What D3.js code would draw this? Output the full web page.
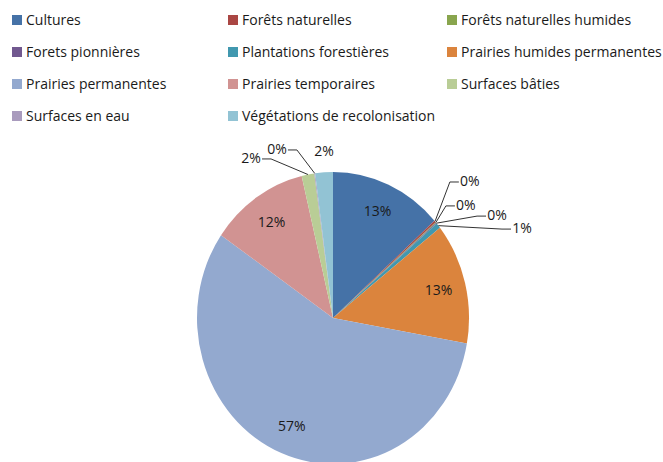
<!DOCTYPE html>
<meta charset="utf-8">
<script src="https://d3js.org/d3.v7.min.js"></script>
<style>
  body { margin: 0; background: #fff; }
  text { font-family: "Open Sans", sans-serif; }
</style>
<div id="chart"></div>
<script>

// categories, shares (%) and colours, clockwise from 12 o'clock
var categories = ["Cultures", "Forêts naturelles", "Forêts naturelles humides",
  "Forets pionnières", "Plantations forestières", "Prairies humides permanentes",
  "Prairies permanentes", "Prairies temporaires", "Surfaces bâties",
  "Surfaces en eau", "Végétations de recolonisation"];
var shares = [13.4, 0.2, 0.1, 0.1, 0.6, 13.4, 56.8, 11.7, 1.5, 0.1, 2.1];
var colors = ["#4572A7", "#AA4643", "#89A54E", "#71588F", "#4198AF", "#DB843D",
  "#93A9CF", "#D19392", "#B9CD96", "#A99BBD", "#92C3D4"];

var width = 663, height = 462;

var svg = d3.select("#chart")
  .append("svg")
    .attr("width", width)
    .attr("height", height);

// legend, 3 columns
var legend = svg.append("g").attr("class", "legend");
var item = legend.selectAll("g")
  .data(categories)
  .enter()
  .append("g")
    .attr("transform", function(d, i) {
      var col = i % 3, row = Math.floor(i / 3);
      return "translate(" + [12, 228, 447][col] + "," + (20 + row * 32) + ")";
    });
item.append("rect")
  .attr("x", 0).attr("y", -5)
  .attr("width", 10).attr("height", 10)
  .attr("fill", function(d, i) { return colors[i]; });
item.append("text")
  .attr("x", 14)
  .attr("dy", "0.35em")
  .style("font-size", "14px")
  .attr("fill", "#1a1a1a")
  .text(function(d) { return d; });

// pie (Excel squashed it a little: taller than wide)
var cx = 333, cy = 318, rx = 136, ry = 146;
var sy = ry / rx;

var pie = d3.pie().sort(null).value(function(d) { return d; });
var arcs = pie(shares);
var total = d3.sum(shares);

var arc = d3.arc().innerRadius(0).outerRadius(rx);

svg.append("g")
    .attr("transform", "translate(" + cx + "," + cy + ") scale(1," + sy + ")")
  .selectAll("path")
  .data(arcs)
  .enter()
  .append("path")
    .attr("d", arc)
    .attr("fill", function(d, i) { return colors[i]; });

// point on the ellipse for an angle (radians from top, clockwise) and radius factor
function pt(a, k) {
  return [cx + Math.sin(a) * rx * k, cy - Math.cos(a) * ry * k];
}
function mid(d) { return (d.startAngle + d.endAngle) / 2; }
function pct(v) { return Math.round(v / total * 100) + "%"; }

// labels of the big slices sit inside
var inside = arcs.filter(function(d) { return d.value >= 5; });
svg.append("g").selectAll("text")
  .data(inside)
  .enter()
  .append("text")
    .attr("x", function(d) { return pt(mid(d), 0.8)[0]; })
    .attr("y", function(d) { return pt(mid(d), 0.8)[1]; })
    .attr("dy", "0.35em")
    .attr("text-anchor", "middle")
    .style("font-size", "14px")
    .attr("fill", "#1a1a1a")
    .text(function(d) { return pct(d.value); });

// small slices: labels pushed out, angle (deg) / radius factor of the label centre
var outsideAt = {1: [47, 1.376], 2: [51.6, 1.247], 3: [59.7, 1.397], 4: [66.1, 1.52],
                 8: [331.2, 1.251], 9: [340.4, 1.229], 10: [356.7, 1.146]};
var outside = arcs.filter(function(d) { return d.value < 5; });
var og = svg.append("g");

outside.forEach(function(d) {
  var spec = outsideAt[d.index];
  var p = pt(spec[0] * Math.PI / 180, spec[1]);
  var e = pt(mid(d), 1);
  var right = p[0] > cx + 20, left = p[0] < cx - 20;
  var half = 10;
  if (right || left) {
    var s = right ? -1 : 1;
    var tx = p[0] + s * (half + 1);
    og.append("polyline")
      .attr("points", [e, [tx + s * 9, p[1] + 1], [tx, p[1] + 1]].join(" "))
      .attr("fill", "none")
      .attr("stroke", "#333")
      .attr("stroke-width", 1);
  }
  og.append("text")
    .attr("x", p[0]).attr("y", p[1])
    .attr("dy", "0.35em")
    .attr("text-anchor", "middle")
    .style("font-size", "14px")
    .attr("fill", "#1a1a1a")
    .text(pct(d.value));
});

</script>
